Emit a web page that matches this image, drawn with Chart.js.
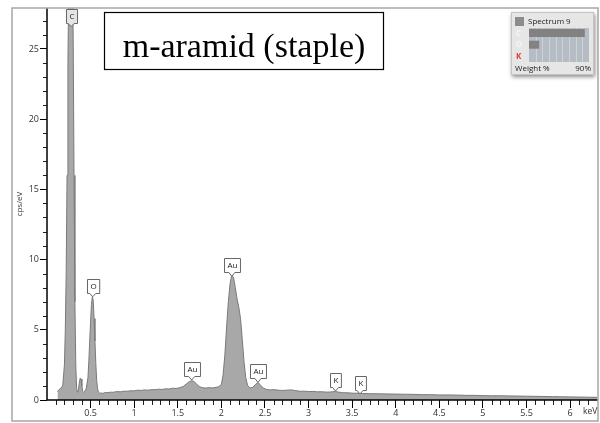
<!DOCTYPE html>
<html>
<head>
<meta charset="utf-8">
<script src="https://cdn.jsdelivr.net/npm/chart.js@4.4.0/dist/chart.umd.min.js"></script>
<style>
html,body{margin:0;padding:0;background:#fff;}
#wrap{position:relative;width:600px;height:423px;}
canvas{display:block;}
</style>
</head>
<body>
<div id="wrap"><canvas id="c" width="600" height="423"></canvas></div>
<script>
// ---- data ----
const energyKeV = [0.12,0.14,0.16,0.18,0.20,0.21,0.22,0.23,0.24,0.25,0.26,0.27,0.28,0.29,0.30,0.31,0.32,0.33,0.34,0.35,0.36,0.37,0.38,0.39,0.40,0.41,0.42,0.43,0.45,0.47,0.48,0.49,0.50,0.51,0.52,0.53,0.54,0.55,0.56,0.57,0.58,0.59,
0.60,0.62,0.64,0.66,0.68,0.70,0.73,0.76,0.80,0.84,0.88,0.92,0.96,1.00,1.04,1.08,1.12,1.16,1.20,1.24,1.28,1.32,1.36,1.40,1.44,1.48,1.52,1.56,1.60,1.63,1.66,1.69,1.72,1.75,1.78,1.82,1.86,1.90,1.94,1.97,
2.00,2.02,2.04,2.06,2.08,2.10,2.12,2.14,2.16,2.18,2.20,2.22,2.24,2.26,2.28,2.30,2.33,2.36,2.39,2.42,2.45,2.48,2.52,2.56,2.60,2.65,2.70,2.75,2.80,2.84,2.90,2.95,
3.00,3.05,3.10,3.15,3.20,3.25,3.30,3.33,3.38,3.45,3.52,3.58,3.62,3.70,3.80,3.90,4.00,4.10,4.20,4.30,4.40,4.50,4.60,4.70,4.80,4.90,5.00,5.10,5.20,5.30,5.40,5.50,5.60,5.70,5.80,5.90,6.00,6.10,6.20,6.31];
const countsPerEV = [0.60,0.75,0.85,1.00,2.5,5,9,16,24,30,33,34,34,32,26,16,7,2.5,0.8,0.55,0.7,1.2,1.55,1.5,1.0,0.6,0.55,0.6,0.8,1.6,2.8,4.2,5.6,6.8,7.35,7.1,5.8,4.2,2.6,1.4,0.8,0.55,
0.48,0.50,0.47,0.52,0.53,0.52,0.56,0.55,0.60,0.58,0.63,0.62,0.66,0.65,0.70,0.68,0.72,0.70,0.74,0.73,0.77,0.75,0.80,0.78,0.84,0.82,0.88,0.95,1.15,1.30,1.38,1.30,1.10,0.95,0.88,0.85,0.88,0.86,0.90,0.95,
1.10,1.8,3.2,5.2,7.0,8.3,8.9,8.7,8.0,7.2,6.6,5.8,4.3,2.7,1.6,1.05,0.85,0.90,1.10,1.25,1.05,0.85,0.75,0.72,0.74,0.70,0.68,0.70,0.72,0.68,0.62,0.63,
0.60,0.61,0.58,0.59,0.56,0.57,0.60,0.58,0.52,0.51,0.48,0.49,0.46,0.45,0.44,0.43,0.42,0.41,0.40,0.38,0.38,0.36,0.36,0.35,0.33,0.33,0.31,0.30,0.30,0.29,0.28,0.27,0.26,0.25,0.24,0.23,0.22,0.21,0.20,0.19];

const peakNames = ['C','O','Au','Au','Au','K','K'];
const peakKeV   = [0.277,0.525,1.66,2.12,2.42,3.31,3.59];
const peakCps   = [26.6,7.35,1.42,8.8,1.25,0.64,0.43];

const yTickValues = [0,5,10,15,20,25];
const xTickLabels = ['0.5','1','1.5','2','2.5','3','3.5','4','4.5','5','5.5','6'];

const titleText = 'm-aramid (staple)';
const legendTitle = 'Spectrum 9';
const legendElements = ['C','O','K'];
const legendBarFrac = [0.93,0.17,0];
const legendFooterLeft = 'Weight %';
const legendFooterRight = '90%';

const X_MIN = 0, X_MAX = 6.32, Y_MIN = 0, Y_MAX = 27.92;

const points = energyKeV.map((e,i)=>({x:e,y:countsPerEV[i]}));

const FONT = '"Open Sans", "DejaVu Sans", sans-serif';

const decorPlugin = {
  id:'decor',
  beforeDraw(chart){
    const ctx = chart.ctx;
    ctx.save();
    ctx.fillStyle='#fff';
    ctx.fillRect(0,0,chart.width,chart.height);
    ctx.restore();
  },
  afterDatasetsDraw(chart){
    const ctx = chart.ctx, xs = chart.scales.x, ys = chart.scales.y;
    const ca = chart.chartArea;
    ctx.save();
    // minor ticks
    ctx.strokeStyle='#222'; ctx.lineWidth=1;
    ctx.beginPath();
    for(let k=1;k<=62;k++){
      const v=k/10; if(k%5===0) continue;
      const px=Math.round(xs.getPixelForValue(v))+0.5;
      ctx.moveTo(px,ca.bottom); ctx.lineTo(px,ca.bottom+5);
    }
    for(let k=1;k<=27;k++){
      if(k%5===0) continue;
      const py=Math.round(ys.getPixelForValue(k))+0.5;
      ctx.moveTo(ca.left-4,py); ctx.lineTo(ca.left,py);
    }
    ctx.stroke();
    // axis lines
    ctx.strokeStyle='#000'; ctx.lineWidth=1.5;
    ctx.beginPath();
    ctx.moveTo(ca.left,ca.top); ctx.lineTo(ca.left,ca.bottom); ctx.lineTo(ca.right,ca.bottom);
    ctx.stroke();
    // keV label
    ctx.fillStyle='#333'; ctx.font='8.5px '+FONT; ctx.textAlign='left'; ctx.textBaseline='middle';
    ctx.fillText('keV',583,412);
    // callouts
    ctx.font='8px '+FONT;
    peakNames.forEach((n,i)=>{
      const px=xs.getPixelForValue(peakKeV[i]);
      const py=ys.getPixelForValue(peakCps[i]);
      const tw=ctx.measureText(n).width;
      const w=Math.max(10,tw+6), h=14;
      const bx=Math.round(px-w/2)+0.5, bb=Math.round(py-4)+0.5, bt=bb-h;
      ctx.beginPath();
      ctx.moveTo(bx,bt); ctx.lineTo(bx+w,bt); ctx.lineTo(bx+w,bb);
      ctx.lineTo(px+3,bb); ctx.lineTo(px,py); ctx.lineTo(px-3,bb);
      ctx.lineTo(bx,bb); ctx.closePath();
      ctx.fillStyle= n==='C' ? '#e4e4e4' : '#fff'; ctx.fill();
      ctx.strokeStyle='#666'; ctx.lineWidth=1; ctx.stroke();
      ctx.fillStyle='#222'; ctx.textAlign='center'; ctx.textBaseline='middle';
      ctx.fillText(n,bx+w/2,bt+h/2+0.5);
    });
    // title box
    ctx.fillStyle='#fff'; ctx.fillRect(104,12,279,58);
    ctx.strokeStyle='#000'; ctx.lineWidth=1.2; ctx.strokeRect(104.5,12.5,279,57);
    ctx.fillStyle='#000'; ctx.font='34px "Liberation Serif", "Times New Roman", serif';
    ctx.textAlign='center'; ctx.textBaseline='alphabetic';
    ctx.fillText(titleText,244,57);
    // legend widget
    ctx.save();
    ctx.shadowColor='rgba(0,0,0,0.45)'; ctx.shadowBlur=4; ctx.shadowOffsetX=1; ctx.shadowOffsetY=2;
    ctx.fillStyle='#e6e6e6'; ctx.fillRect(511,12,83,63);
    ctx.restore();
    ctx.strokeStyle='#c4c4c4'; ctx.lineWidth=1; ctx.strokeRect(511.5,12.5,82,62);
    ctx.fillStyle='#8c8c8c'; ctx.fillRect(515,17,9,9);
    ctx.fillStyle='#222'; ctx.font='8px '+FONT; ctx.textAlign='left'; ctx.textBaseline='middle';
    ctx.fillText(legendTitle,528,22);
    const gx=529, gy=28, gw=60, gh=34;
    ctx.fillStyle='#b5bcc4'; ctx.fillRect(gx,gy,gw,gh);
    ctx.strokeStyle='#cdd2d8'; ctx.lineWidth=1;
    ctx.beginPath();
    for(let k=1;k<9;k++){const lx=Math.round(gx+k*gw/9)+0.5; ctx.moveTo(lx,gy); ctx.lineTo(lx,gy+gh);}
    ctx.stroke();
    legendElements.forEach((el,i)=>{
      const ry=gy+1+i*11.7;
      if(legendBarFrac[i]>0){ ctx.fillStyle='#828282'; ctx.fillRect(gx,ry,gw*legendBarFrac[i],8); }
      ctx.fillStyle= el==='K' ? '#e23b3b' : '#f4f4f4';
      ctx.font='bold 8px '+FONT; ctx.textAlign='left';
      ctx.fillText(el,516,ry+4.5);
    });
    ctx.fillStyle='#222'; ctx.font='8px '+FONT;
    ctx.textAlign='left'; ctx.fillText(legendFooterLeft,515,69);
    ctx.textAlign='right'; ctx.fillText(legendFooterRight,591,69);
    // outer frame
    ctx.strokeStyle='#a6a6a6'; ctx.lineWidth=1.5;
    ctx.strokeRect(12,8,586,413);
    ctx.restore();
  }
};

new Chart(document.getElementById('c'),{
  type:'line',
  data:{datasets:[{
    data:points,
    borderColor:'#7a7a7a', borderWidth:1,
    backgroundColor:'#a8a8a8',
    fill:'origin', pointRadius:0, tension:0
  }]},
  options:{
    responsive:false, animation:false,
    layout:{padding:{left:12,right:2,top:8,bottom:0}},
    plugins:{legend:{display:false},tooltip:{enabled:false}},
    scales:{
      x:{type:'linear',min:X_MIN,max:X_MAX,
        grid:{drawOnChartArea:false,drawTicks:true,tickLength:8,color:'#000',tickColor:'#000'},
        border:{display:false},
        afterFit(s){s.height=23;},
        afterBuildTicks(s){s.ticks=xTickLabels.map(t=>({value:parseFloat(t)}));},
        ticks:{autoSkip:false,maxRotation:0,padding:0,color:'#333',font:{family:FONT,size:9},
          callback(v){const i=xTickLabels.indexOf(String(v));return i>=0?xTickLabels[i]:'';}}
      },
      y:{type:'linear',min:Y_MIN,max:Y_MAX,
        grid:{drawOnChartArea:false,drawTicks:true,tickLength:7,color:'#000',tickColor:'#000'},
        border:{display:false},
        afterFit(s){s.width=35;},
        afterBuildTicks(s){s.ticks=yTickValues.map(v=>({value:v}));},
        title:{display:true,text:'cps/eV',color:'#333',font:{family:FONT,size:8},padding:{top:3,bottom:0}},
        ticks:{padding:1,color:'#333',font:{family:FONT,size:9}}
      }
    }
  },
  plugins:[decorPlugin]
});
</script>
</body>
</html>
